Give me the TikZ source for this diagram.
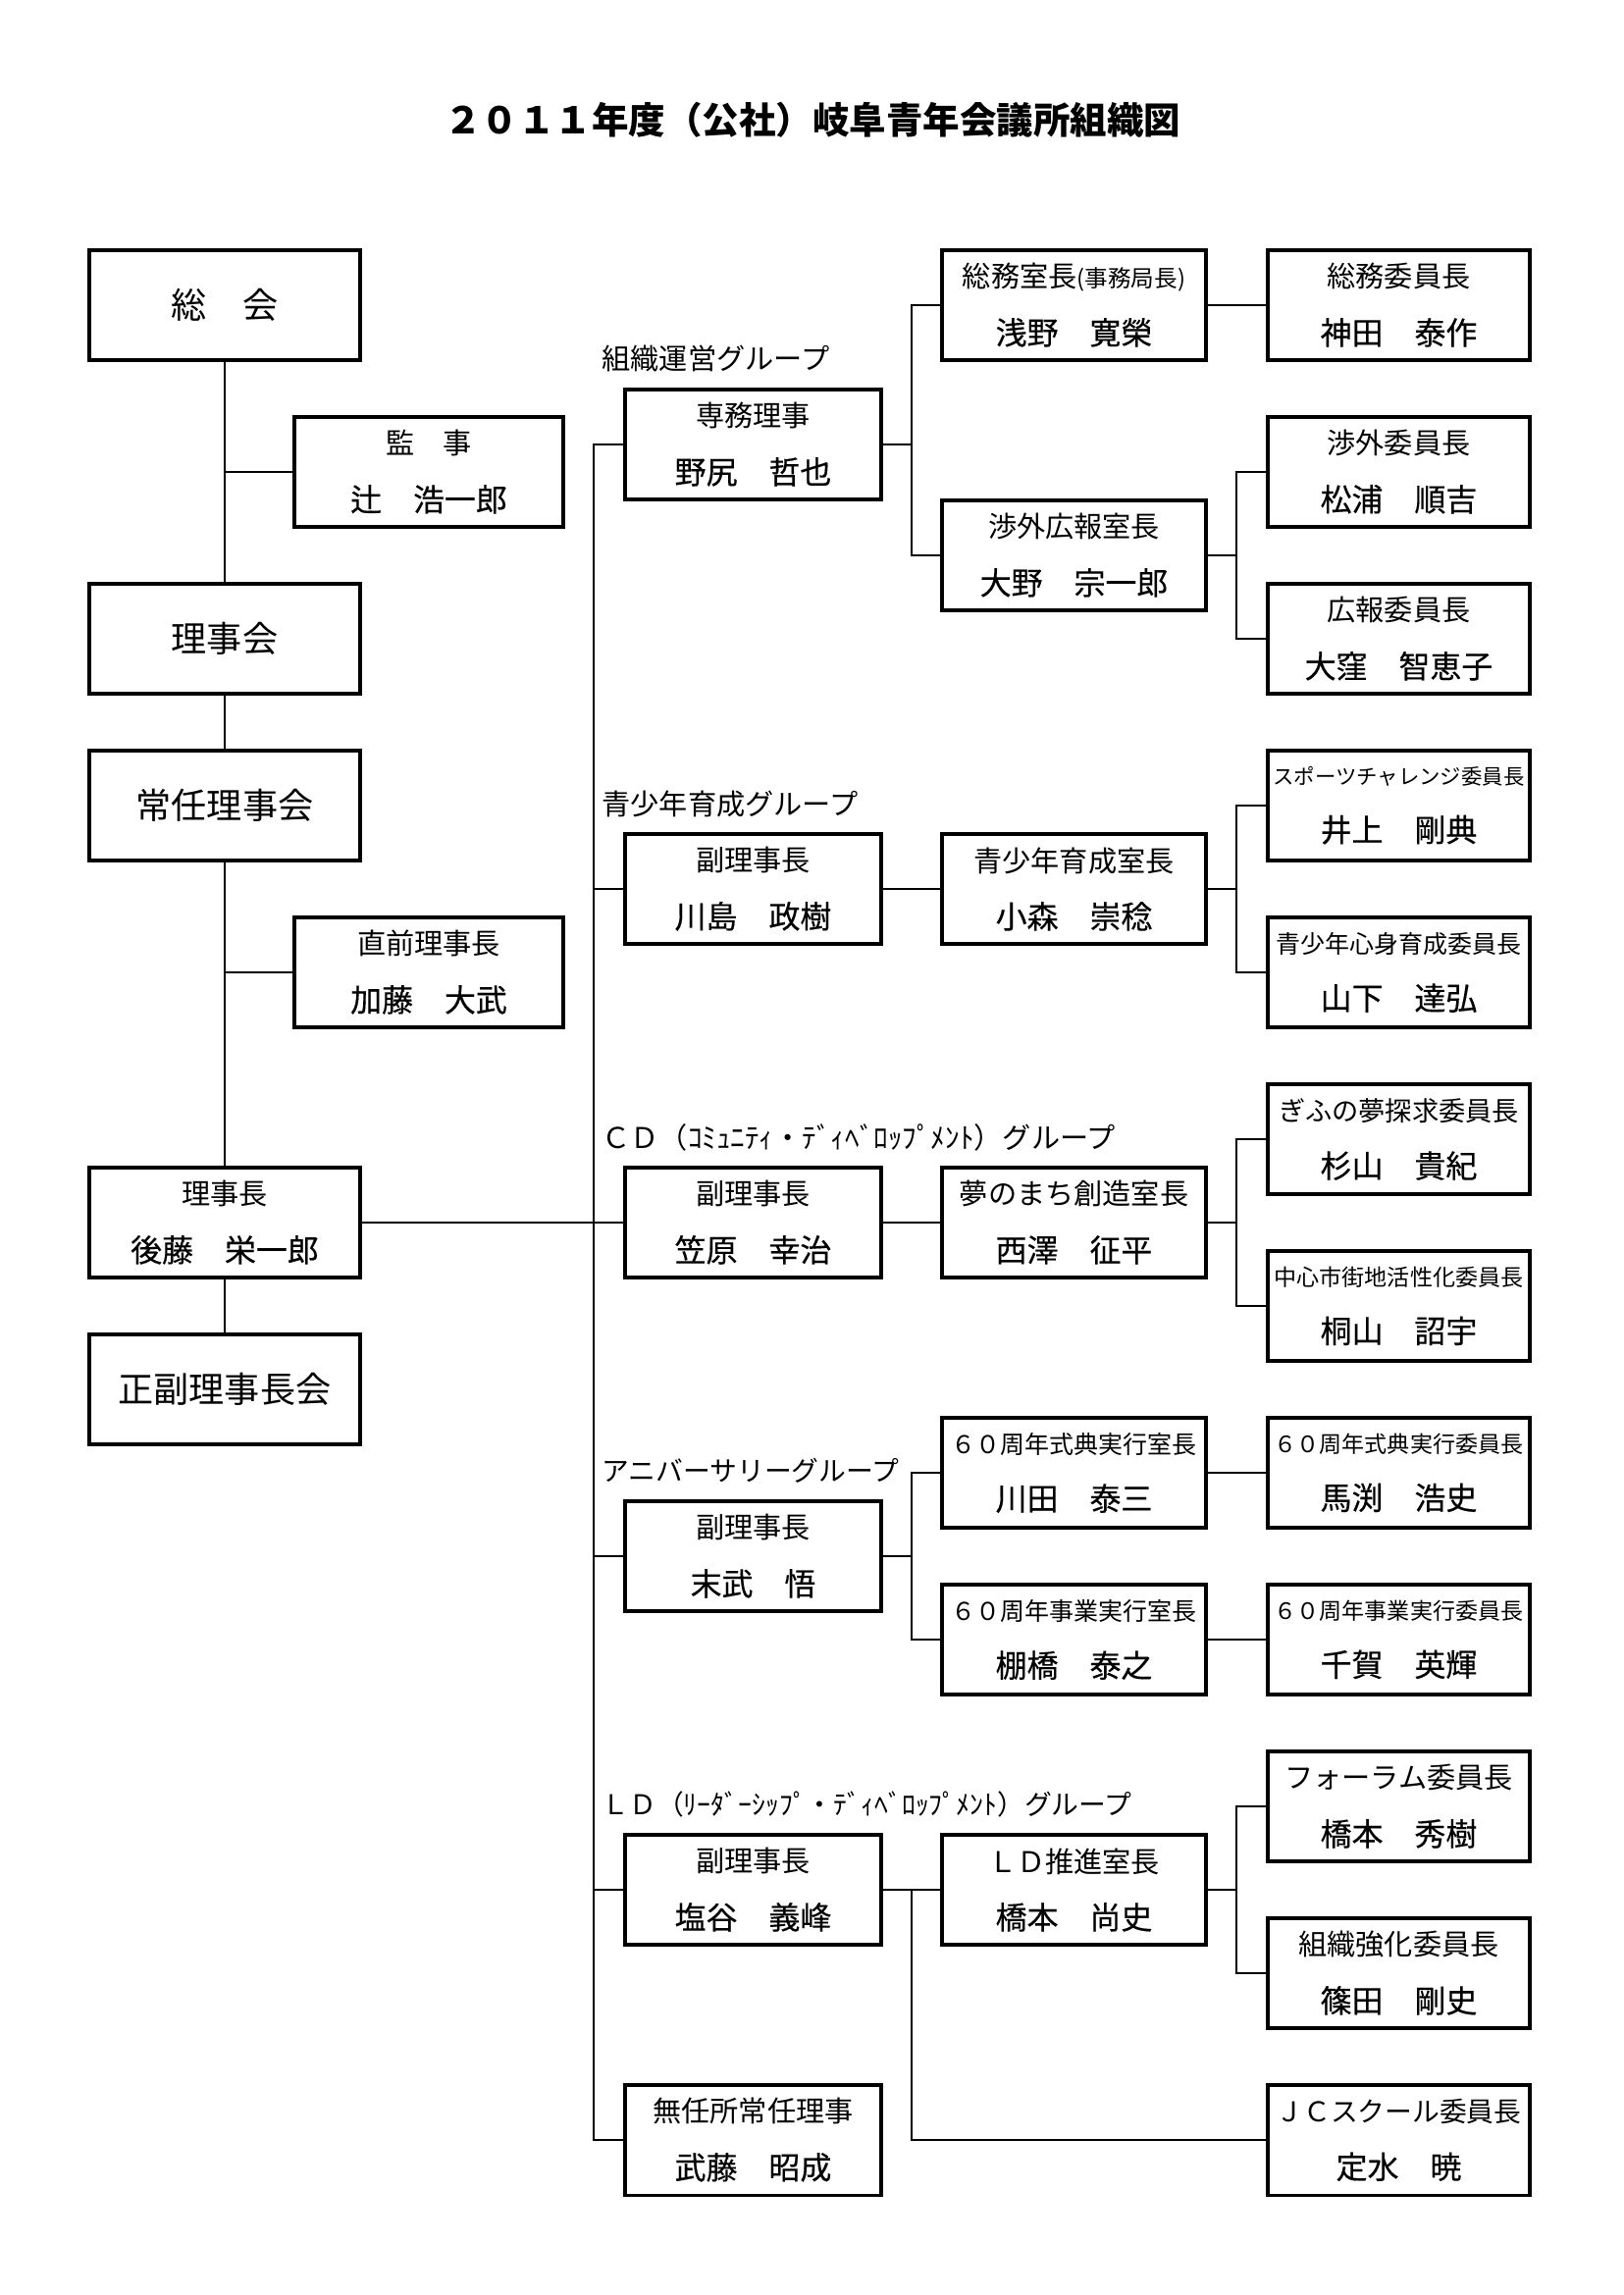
\documentclass[tikz,border=0pt]{standalone}
\usepackage{fontspec}
\setmainfont{Noto Sans CJK JP}
\newfontfamily\nmfam[FakeBold=0.35]{Noto Sans CJK JP}
\newcommand\rolef{\fontsize{10.5pt}{12pt}\selectfont}
\newcommand\namef{\nmfam\fontsize{11.5pt}{13pt}\selectfont}
\newcommand\bigf{\fontsize{13pt}{15pt}\selectfont}
\newcommand\twoln[2]{\rolef #1\\[8.9pt]\namef #2}
\tikzset{
  box/.style={draw, line width=1.1pt, minimum height=112*0.36pt, inner sep=0pt, align=center, font=\rolef},
  lbox/.style={box, minimum width=276*0.36pt},
  sbox/.style={box, minimum width=274*0.36pt},
  ctwo/.style={box, minimum width=261*0.36pt},
  cthree/.style={box, minimum width=269*0.36pt},
  cfour/.style={box, minimum width=267*0.36pt},
  conn/.style={line width=0.9pt},
  grp/.style={anchor=west, font=\rolef, inner sep=0pt},
}
\begin{document}
\begin{tikzpicture}[x=0.36pt,y=-0.36pt]
\useasboundingbox (0,0) rectangle (1654,2339);
% title
\node[font=\fontsize{13.5pt}{16pt}\selectfont\bfseries] (title) at (828,122) {２０１１年度（公社）岐阜青年会議所組織図};
% left column
\node[lbox, font=\bigf] (sokai) at (229,311) {総　会};
\node[sbox] (kanji) at (437,481) {\twoln{監　事}{辻　浩一郎}};
\node[lbox, font=\bigf] (rijikai) at (229,651) {理事会};
\node[lbox, font=\bigf] (jonin) at (229,821) {常任理事会};
\node[sbox] (chokuzen) at (437,991) {\twoln{直前理事長}{加藤　大武}};
\node[lbox] (rijicho) at (229,1246) {\twoln{理事長}{後藤　栄一郎}};
\node[lbox, font=\bigf] (seifuku) at (229,1416) {正副理事長会};
% group labels
\node[grp] (g1) at (613,365) {組織運営グループ};
\node[grp] (g2) at (613,819) {青少年育成グループ};
\node[grp] (g3) at (613,1159) {ＣＤ（ｺﾐｭﾆﾃｨ・ﾃﾞｨﾍﾞﾛｯﾌﾟﾒﾝﾄ）グループ};
\node[grp, font=\fontsize{10pt}{12pt}\selectfont] (g4) at (613,1499) {アニバーサリーグループ};
\node[grp, font=\fontsize{10pt}{12pt}\selectfont] (g5) at (613,1839) {ＬＤ（ﾘｰﾀﾞｰｼｯﾌﾟ・ﾃﾞｨﾍﾞﾛｯﾌﾟﾒﾝﾄ）グループ};
% column 2
\node[ctwo] (senmu) at (767.5,453) {\twoln{専務理事}{野尻　哲也}};
\node[ctwo] (kawashima) at (767.5,906) {\twoln{副理事長}{川島　政樹}};
\node[ctwo] (kasahara) at (767.5,1246) {\twoln{副理事長}{笠原　幸治}};
\node[ctwo] (suetake) at (767.5,1586) {\twoln{副理事長}{末武　悟}};
\node[ctwo] (shioya) at (767.5,1926) {\twoln{副理事長}{塩谷　義峰}};
\node[ctwo] (muninsho) at (767.5,2181) {\twoln{無任所常任理事}{武藤　昭成}};
% column 3
\node[cthree] (somushitsu) at (1094.5,311) {\twoln{総務室長{\fontsize{8.5pt}{10pt}\selectfont (事務局長)}}{浅野　寛榮}};
\node[cthree] (shogaishitsu) at (1094.5,566) {\twoln{渉外広報室長}{大野　宗一郎}};
\node[cthree] (seishitsu) at (1094.5,906) {\twoln{青少年育成室長}{小森　崇稔}};
\node[cthree] (yume) at (1094.5,1246) {\twoln{夢のまち創造室長}{西澤　征平}};
\node[cthree] (shiki) at (1094.5,1501) {\twoln{\fontsize{9pt}{12pt}\selectfont ６０周年式典実行室長}{川田　泰三}};
\node[cthree] (jigyo) at (1094.5,1671) {\twoln{\fontsize{9pt}{12pt}\selectfont ６０周年事業実行室長}{棚橋　泰之}};
\node[cthree] (ld) at (1094.5,1926) {\twoln{ＬＤ推進室長}{橋本　尚史}};
% column 4
\node[cfour] (somuiin) at (1425.5,311) {\twoln{総務委員長}{神田　泰作}};
\node[cfour] (shogaiiin) at (1425.5,481) {\twoln{渉外委員長}{松浦　順吉}};
\node[cfour] (kohoiin) at (1425.5,651) {\twoln{広報委員長}{大窪　智恵子}};
\node[cfour] (sports) at (1425.5,821) {\twoln{\fontsize{7.7pt}{12pt}\selectfont スポーツチャレンジ委員長}{井上　剛典}};
\node[cfour] (shinshin) at (1425.5,991) {\twoln{\fontsize{9pt}{12pt}\selectfont 青少年心身育成委員長}{山下　達弘}};
\node[cfour] (gifu) at (1425.5,1161) {\twoln{\fontsize{9.8pt}{12pt}\selectfont ぎふの夢探求委員長}{杉山　貴紀}};
\node[cfour] (chushin) at (1425.5,1331) {\twoln{\fontsize{8.3pt}{12pt}\selectfont 中心市街地活性化委員長}{桐山　詔宇}};
\node[cfour] (shikiiin) at (1425.5,1501) {\twoln{\fontsize{8.3pt}{12pt}\selectfont ６０周年式典実行委員長}{馬渕　浩史}};
\node[cfour] (jigyoiin) at (1425.5,1671) {\twoln{\fontsize{8.3pt}{12pt}\selectfont ６０周年事業実行委員長}{千賀　英輝}};
\node[cfour] (forum) at (1425.5,1841) {\twoln{フォーラム委員長}{橋本　秀樹}};
\node[cfour] (soshiki) at (1425.5,2011) {\twoln{組織強化委員長}{篠田　剛史}};
\node[cfour] (jc) at (1425.5,2181) {\twoln{\fontsize{10pt}{12pt}\selectfont ＪＣスクール委員長}{定水　暁}};
% spine coordinates
\coordinate (spx) at (605,0);
\coordinate (s2) at (929,0);
\coordinate (s3) at (1260,0);
% left connectors
\draw[conn] (sokai.south) -- (rijikai.north);
\draw[conn] (kanji.west) -- (kanji.west -| sokai.south);
\draw[conn] (rijikai.south) -- (jonin.north);
\draw[conn] (jonin.south) -- (rijicho.north);
\draw[conn] (chokuzen.west) -- (chokuzen.west -| jonin.south);
\draw[conn] (rijicho.south) -- (seifuku.north);
\draw[conn] (rijicho.east) -- (rijicho.east -| spx);
% main spine
\draw[conn] (senmu.west) -- (senmu.west -| spx) -- (muninsho.west -| spx) -- (muninsho.west);
\draw[conn] (kawashima.west) -- (kawashima.west -| spx);
\draw[conn] (kasahara.west) -- (kasahara.west -| spx);
\draw[conn] (suetake.west) -- (suetake.west -| spx);
\draw[conn] (shioya.west) -- (shioya.west -| spx);
% group 1
\draw[conn] (senmu.east) -- (senmu.east -| s2);
\draw[conn] (somushitsu.west) -- (somushitsu.west -| s2) -- (shogaishitsu.west -| s2) -- (shogaishitsu.west);
\draw[conn] (somushitsu.east) -- (somuiin.west);
\draw[conn] (shogaishitsu.east) -- (shogaishitsu.east -| s3);
\draw[conn] (shogaiiin.west) -- (shogaiiin.west -| s3) -- (kohoiin.west -| s3) -- (kohoiin.west);
% group 2
\draw[conn] (kawashima.east) -- (seishitsu.west);
\draw[conn] (seishitsu.east) -- (seishitsu.east -| s3);
\draw[conn] (sports.west) -- (sports.west -| s3) -- (shinshin.west -| s3) -- (shinshin.west);
% group 3
\draw[conn] (kasahara.east) -- (yume.west);
\draw[conn] (yume.east) -- (yume.east -| s3);
\draw[conn] (gifu.west) -- (gifu.west -| s3) -- (chushin.west -| s3) -- (chushin.west);
% group 4
\draw[conn] (suetake.east) -- (suetake.east -| s2);
\draw[conn] (shiki.west) -- (shiki.west -| s2) -- (jigyo.west -| s2) -- (jigyo.west);
\draw[conn] (shiki.east) -- (shikiiin.west);
\draw[conn] (jigyo.east) -- (jigyoiin.west);
% group 5
\draw[conn] (shioya.east) -- (ld.west);
\draw[conn] (shioya.east -| s2) -- (jc.west -| s2) -- (jc.west);
\draw[conn] (ld.east) -- (ld.east -| s3);
\draw[conn] (forum.west) -- (forum.west -| s3) -- (soshiki.west -| s3) -- (soshiki.west);
\end{tikzpicture}
\end{document}
